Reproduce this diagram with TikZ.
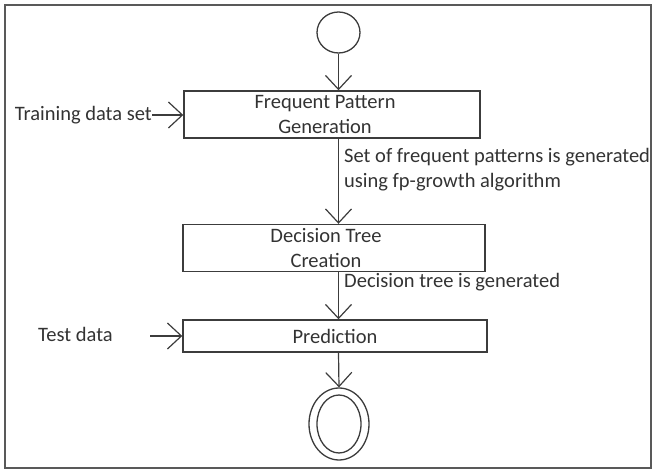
\documentclass[tikz,border=0pt]{standalone}
\usepackage{fontspec}
\setmainfont{Carlito}
\usetikzlibrary{arrows.meta,shapes.geometric}
\definecolor{ln}{HTML}{3C3C3C}
\definecolor{tx}{HTML}{333333}
\begin{document}
\begin{tikzpicture}[x=1pt,y=-1pt,
  font=\fontsize{20.5}{25}\selectfont, text=tx,
  flow/.style={draw=ln, line width=1.2pt, -{Straight Barb[length=14pt,width=26pt,line width=1.2pt]}},
  act/.style={draw=ln, line width=1.4pt, rectangle, inner sep=0pt, align=center},
  lbl/.style={inner sep=0pt, align=left}]
\useasboundingbox (0,0) rectangle (654,470);
\draw[ln!85, line width=2pt] (5,5) rectangle (651,468);
\node[draw=ln, line width=1.3pt, ellipse, minimum width=43pt, minimum height=41pt, inner sep=0pt] (start) at (338.5,32.5) {};
\node[act, minimum width=296pt, minimum height=47pt] (fp) at (332,114.5) {Frequent Pattern\hspace*{14pt}\\Generation\hspace*{14pt}};
\node[act, minimum width=302pt, minimum height=47pt] (dt) at (334,248) {Decision Tree\hspace*{16pt}\\Creation\hspace*{16pt}};
\node[act, minimum width=304pt, minimum height=32pt] (pred) at (335,336) {Prediction};
\node[draw=ln, line width=1.3pt, ellipse, minimum width=60pt, minimum height=72pt, inner sep=0pt] (end) at (339,424) {};
\node[draw=ln, line width=1.3pt, ellipse, minimum width=44pt, minimum height=58pt, inner sep=0pt] (endin) at (339,424) {};
\node[lbl, anchor=east] (train) at (152,115) {Training data set};
\node[lbl, anchor=west] (test) at (38,334) {Test data};
\coordinate (testarr) at (150,336);
\node[lbl, anchor=west] (l1) at (344,170) {Set of frequent patterns is generated\\using fp-growth algorithm};
\node[lbl, anchor=west] (l2) at (344,282) {Decision tree is generated};
\draw[flow] (start.south) -- (start.south |- fp.north);
\draw[flow] (fp.south -| start.south) -- (dt.north -| start.south);
\draw[flow] (dt.south -| start.south) -- (pred.north -| start.south);
\draw[flow] (pred.south -| start.south) -- (end.north);
\draw[flow] (train.east) -- (train.east -| fp.west);
\draw[flow] (testarr) -- (testarr -| pred.west);
\end{tikzpicture}
\end{document}
